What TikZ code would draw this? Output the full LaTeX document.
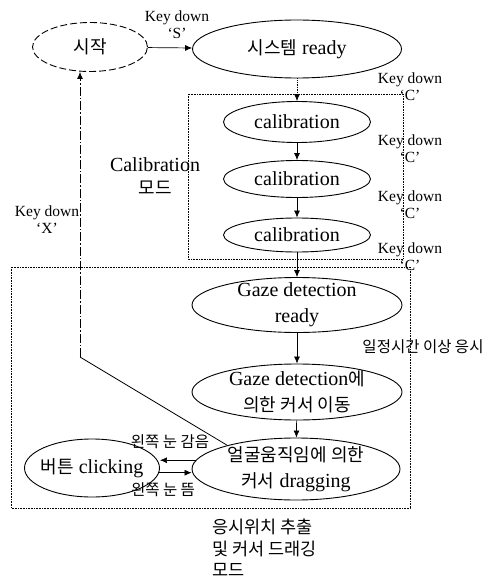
\documentclass[tikz,border=0pt]{standalone}
\usepackage{fontspec}
\setmainfont{Liberation Serif}
\newfontfamily\kr{Noto Sans CJK KR}
\usetikzlibrary{shapes.geometric,arrows.meta,calc}
\newcommand\K[1]{{\kr\fontsize{18}{20}\selectfont #1}}
\newcommand\Ks[1]{{\kr\fontsize{15.5}{18}\selectfont #1}}
\begin{document}
\begin{tikzpicture}[x=1pt,y=-1pt,
  st/.style={ellipse, draw, line width=0.9pt, inner sep=0pt},
  tx/.style={inner sep=0pt, align=center, font=\fontsize{20}{26}\selectfont},
  kd/.style={inner sep=0pt, align=center, font=\fontsize{15.5}{17}\selectfont},
  arr/.style={-{Latex[length=7pt,width=6pt]}, line width=0.7pt},
  boxl/.style={line width=0.6pt, densely dotted},
  ret/.style={line width=0.8pt, dash pattern=on 9pt off 2pt on 1.5pt off 2pt}]
\useasboundingbox (0,0) rectangle (492,583);

% frames
\draw[boxl] (188,94) rectangle (403,259);
\draw[boxl] (11,267) rectangle (410,508);

% ellipses
\node[st, dash pattern=on 7pt off 3pt, minimum width=115pt, minimum height=49pt] (start) at (90,47) {};
\node[st, minimum width=209pt, minimum height=58pt] (sys) at (297,49) {};
\node[st, minimum width=147pt, minimum height=41pt] (cal1) at (297,122) {};
\node[st, minimum width=147pt, minimum height=37pt] (cal2) at (297,179) {};
\node[st, minimum width=147pt, minimum height=34pt] (cal3) at (297,235) {};
\node[st, minimum width=210pt, minimum height=55pt] (gz1) at (297,305) {};
\node[st, minimum width=210pt, minimum height=56pt] (gz2) at (297,392) {};
\node[st, minimum width=208pt, minimum height=62pt] (drag) at (296,469) {};
\node[st, minimum width=135pt, minimum height=58pt] (btn) at (92,468) {};

% texts in ellipses
\node[tx] (startT) at (start) {\K{시작}};
\node[tx] (sysT) at (sys) {\K{시스템} ready};
\node[tx] (cal1T) at (cal1) {calibration};
\node[tx] (cal2T) at (cal2) {calibration};
\node[tx] (cal3T) at (cal3) {calibration};
\node[tx] (gz1T) at (gz1) {Gaze detection\\ready};
\node[tx] (gz2T) at (gz2) {Gaze detection\K{에}\\\K{의한 커서 이동}};
\node[tx] (dragT) at (drag) {\K{얼굴움직임에 의한}\\\K{커서}\ dragging};
\node[tx] (btnT) at (btn) {\K{버튼} clicking};

% connectors
\draw[arr] (start) -- (sys);
\draw[arr, densely dotted] (sys) -- (cal1);
\draw[arr] (cal1) -- (cal2);
\draw[arr] (cal2) -- (cal3);
\draw[arr] (cal3) -- (gz1);
\draw[arr] (gz1) -- (gz2);
\draw[arr] (gz2) -- (drag);
\draw[arr] (drag.175) -- (drag.175 -| btn.east);
\draw[arr] (btn.-4) -- (btn.-4 -| drag.west);
\coordinate (bend) at (80,357);
\draw[line width=0.8pt] (drag.161) -- (bend);
\draw[ret, -{Latex[length=7pt,width=6pt]}] (bend) -- (bend |- start.south);

% labels
\node[kd] (lS) at (177,25) {Key down\\`S'};
\node[kd] (lX) at (47,220) {Key down\\`X'};
\node[kd] (lC0) at (410,87) {Key down\\`C'};
\node[kd] (lC1) at (410,149) {Key down\\`C'};
\node[kd] (lC2) at (410,205) {Key down\\`C'};
\node[kd] (lC3) at (410,257) {Key down\\`C'};
\node[tx, font=\fontsize{20}{23}\selectfont] (calmode) at (155,176) {Calibration\\\K{모드}};
\node[inner sep=0pt] (stare) at (423,347) {\Ks{일정시간 이상 응시}};
\node[inner sep=0pt] (close) at (170,442) {\Ks{왼쪽 눈 감음}};
\node[inner sep=0pt] (open) at (163,490) {\Ks{왼쪽 눈 뜸}};
\node[inner sep=0pt, anchor=north west, align=left, font=\kr\fontsize{17.5}{21.5}\selectfont] (mode) at (212,519) {응시위치 추출\\및 커서 드래깅\\모드};
\end{tikzpicture}
\end{document}
